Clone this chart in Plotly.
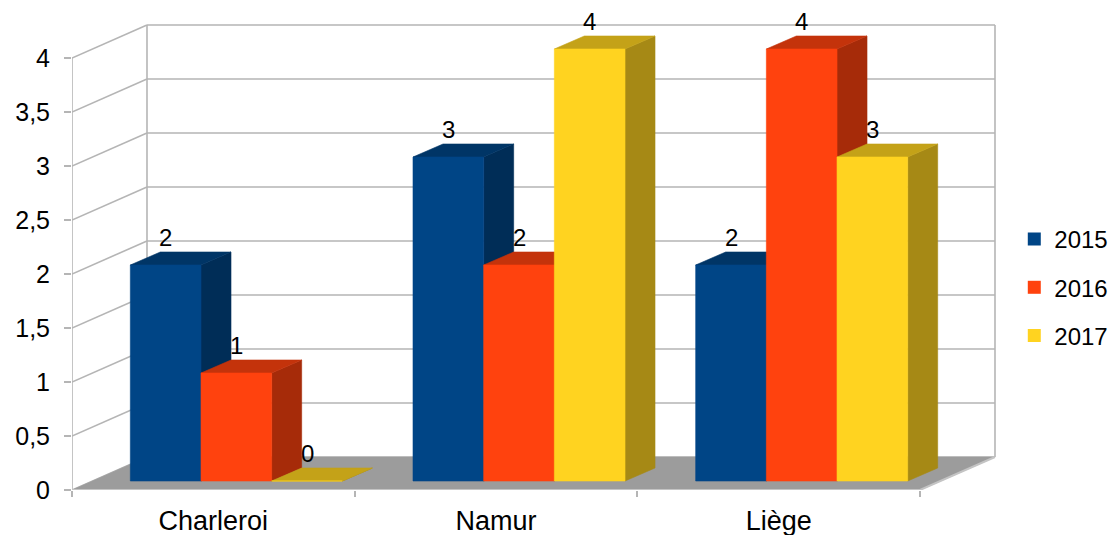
import plotly.graph_objects as go

# ---- data -------------------------------------------------------------
categories = ["Charleroi", "Namur", "Liège"]
years = ["2015", "2016", "2017"]
values_2015 = [2, 3, 2]
values_2016 = [1, 2, 4]
values_2017 = [0, 4, 3]
y_ticks = [0, 0.5, 1, 1.5, 2, 2.5, 3, 3.5, 4]

series = [values_2015, values_2016, values_2017]

# ---- styling ----------------------------------------------------------
front_colors = ["#004586", "#ff420e", "#ffd320"]
top_colors = ["#003566", "#c4330b", "#c4a218"]
side_colors = ["#002d57", "#a62b09", "#a68915"]
grid_color = "#b5b5b5"
floor_color = "#9c9c9c"
FONT = "Liberation Sans, Arial, sans-serif"

# oblique projection of the depth axis onto the x/y axes
WALL_DX, WALL_DY = 0.2653, 0.3056   # floor/wall depth
BAR_X0, BAR_Y0 = 0.0814, 0.0833     # offset of the bar front plane
BAR_DX, BAR_DY = 0.1061, 0.1204     # bar depth
BAR_W = 0.25                        # bar width in category units
n_cat = len(categories)
y_top = max(y_ticks)

fig = go.Figure()


def line_trace(xs, ys, color=grid_color, width=1.6):
    return go.Scatter(x=xs, y=ys, mode="lines", line=dict(color=color, width=width),
                      hoverinfo="skip", showlegend=False, cliponaxis=False)


# back wall and side wall grid lines
gx, gy = [], []
for v in y_ticks:
    gx += [WALL_DX, n_cat + WALL_DX, None, 0, WALL_DX, None]
    gy += [v + WALL_DY, v + WALL_DY, None, v, v + WALL_DY, None]
# wall edges
gx += [0, 0, None, WALL_DX, WALL_DX, None, n_cat + WALL_DX, n_cat + WALL_DX, None]
gy += [0, y_top, None, WALL_DY, y_top + WALL_DY, None, WALL_DY, y_top + WALL_DY, None]
fig.add_trace(line_trace(gx, gy))

# floor
fig.add_trace(go.Scatter(
    x=[0, n_cat, n_cat + WALL_DX, WALL_DX, 0],
    y=[0, 0, WALL_DY, WALL_DY, 0],
    fill="toself", fillcolor=floor_color, mode="lines",
    line=dict(color=floor_color, width=0.5),
    hoverinfo="skip", showlegend=False, cliponaxis=False))
fig.add_trace(line_trace([0, n_cat, n_cat + WALL_DX], [0, 0, WALL_DY], color="#c4c4c4", width=2))

# bars: side, top and front face of every box
annotations = []
for j, vals in enumerate(series):
    sx, sy, tx, ty, fx, fy = [], [], [], [], [], []
    for i, v in enumerate(vals):
        x0 = i + 0.5 - 1.5 * BAR_W + j * BAR_W + BAR_X0
        x1 = x0 + BAR_W
        b = BAR_Y0
        t = BAR_Y0 + v
        # side face
        sx += [x1, x1 + BAR_DX, x1 + BAR_DX, x1, x1, None]
        sy += [b, b + BAR_DY, t + BAR_DY, t, b, None]
        # top face
        tx += [x0, x1, x1 + BAR_DX, x0 + BAR_DX, x0, None]
        ty += [t, t, t + BAR_DY, t + BAR_DY, t, None]
        # front face
        fx += [x0, x1, x1, x0, x0, None]
        fy += [b, b, t, t, b, None]
        annotations.append(dict(
            x=(x0 + x1) / 2, y=t + BAR_DY, xref="x", yref="y",
            text=str(v), showarrow=False, yanchor="bottom", yshift=-1,
            font=dict(family=FONT, size=24, color="#000000")))
    for xs, ys, col in ((sx, sy, side_colors[j]), (tx, ty, top_colors[j]), (fx, fy, front_colors[j])):
        fig.add_trace(go.Scatter(
            x=xs, y=ys, fill="toself", fillcolor=col, mode="lines",
            line=dict(color=col, width=0.6), hoverinfo="skip",
            showlegend=False, cliponaxis=False))

# legend entries
for j, name in enumerate(years):
    fig.add_trace(go.Scatter(
        x=[None], y=[None], mode="markers", name=name, legendgroup=name,
        marker=dict(symbol="square", size=13, color=front_colors[j])))

fig.update_layout(
    width=1112, height=535,
    margin=dict(l=72, r=112, t=10, b=45, autoexpand=False),
    paper_bgcolor="white", plot_bgcolor="white",
    separators=", ",
    font=dict(family=FONT, size=25, color="#000000"),
    annotations=annotations,
    showlegend=True,
    legend=dict(x=1.0154, y=0.4219, xanchor="left", yanchor="middle",
                font=dict(family=FONT, size=24), tracegroupgap=14,
                traceorder="grouped", bgcolor="rgba(0,0,0,0)"),
    xaxis=dict(range=[0, 928 / 282.67], autorange=False, automargin=False,
               showgrid=False, zeroline=False,
               showline=False, tickmode="array", tickvals=[0.5, 1.5, 2.5],
               ticktext=categories, ticks="", ticklabelstandoff=12,
               tickfont=dict(family=FONT, size=27),
               minor=dict(tickmode="array", tickvals=[0, 1, 2, 3], ticks="outside",
                          ticklen=6, tickcolor=grid_color, tickwidth=1.5)),
    yaxis=dict(range=[0, 480 / 108], autorange=False, automargin=False,
               showgrid=False, zeroline=False,
               showline=False, tickmode="array", tickvals=y_ticks, ticks="outside",
               ticklen=7, tickcolor=grid_color, tickwidth=1.5, ticklabelstandoff=9,
               tickfont=dict(family=FONT, size=25)),
)

fig.write_html("out.html")
